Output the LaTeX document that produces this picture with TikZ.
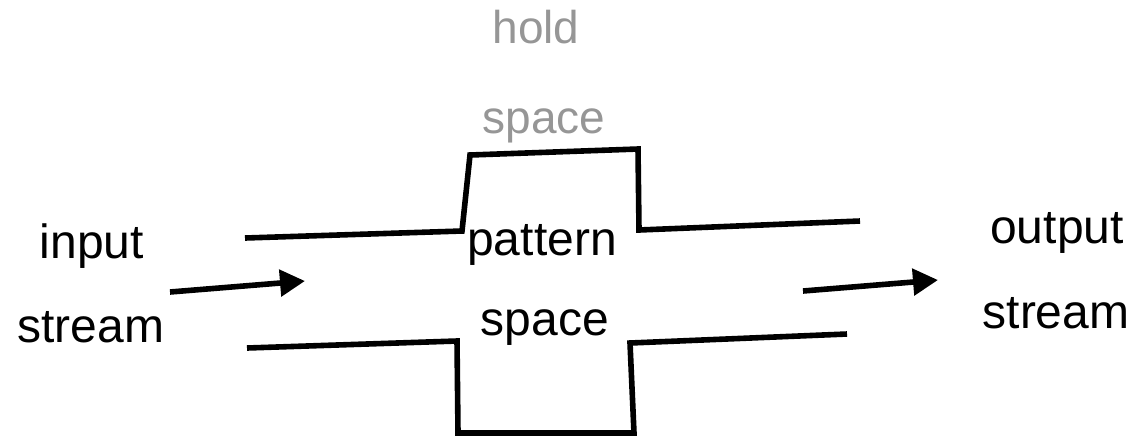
\documentclass[tikz,border=0pt]{standalone}
\usepackage{fontspec}
\setmainfont{Liberation Sans}
\usetikzlibrary{arrows.meta}
\definecolor{holdgray}{RGB}{150,150,150}
\tikzset{
  lbl/.style={anchor=base, inner sep=0pt, font=\fontsize{24}{28}\selectfont},
  glbl/.style={lbl, text=holdgray, font=\fontsize{23}{27}\selectfont},
  wall/.style={line width=2.8pt, line join=miter},
  flow/.style={line width=2.8pt, -{Triangle[length=12.5pt,width=13pt]}}
}
\begin{document}
\begin{tikzpicture}[x=0.5pt,y=-0.5pt]
\useasboundingbox (0,0) rectangle (1134,436);
% texts
\node[glbl] (hold) at (536,43) {hold};
\node[glbl] (hspace) at (544,133) {space};
\node[lbl] (in1) at (92,258) {input};
\node[lbl] (in2) at (91,342) {stream};
\node[lbl] (pat) at (542,255) {pattern};
\node[lbl] (pspace) at (545,335) {space};
\node[lbl] (out1) at (1057,243) {output};
\node[lbl] (out2) at (1056,328) {stream};
% walls
\draw[wall] (245,238) -- (462,231) -- (470,155) -- (638,149) -- (639,230) -- (860,221);
\draw[wall] (247,348) -- (457,341) -- (458,433) -- (634,433) -- (630,343) -- (847,334);
% arrows
\coordinate (a1s) at (170,292);
\coordinate (a1e) at (305,281);
\coordinate (a2s) at (803,291);
\coordinate (a2e) at (938,280);
\draw[flow] (a1s) -- (a1e);
\draw[flow] (a2s) -- (a2e);
\end{tikzpicture}
\end{document}
